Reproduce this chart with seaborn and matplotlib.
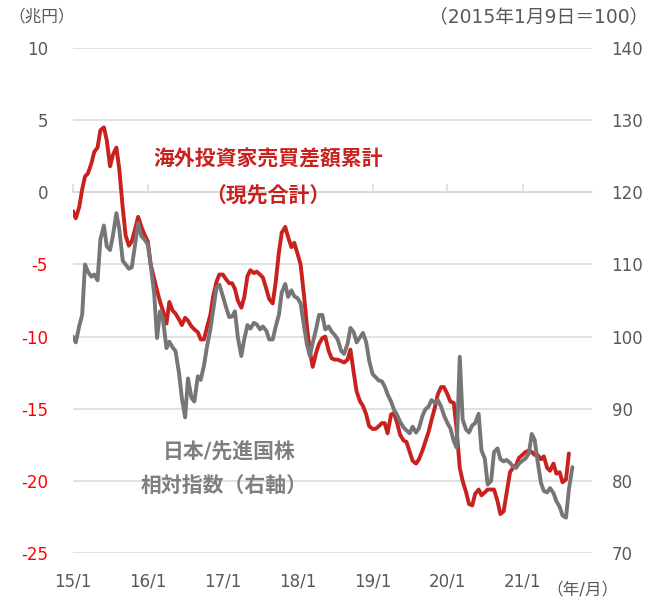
import pandas as pd
import matplotlib.pyplot as plt
import matplotlib.dates as mdates
import seaborn as sns

# semi-monthly observation dates, Jan 2015 - Sep 2021
dates = pd.date_range('2015-01-01', periods=161, freq='SMS')

# foreign investors cumulative net buying (trillion yen, left axis)
flow = [-1.3, -1.8, -1.0, 0.2, 1.1, 1.3, 2.0, 2.8, 3.1, 4.3,
        4.5, 3.6, 1.8, 2.6, 3.1, 1.6, -1.1, -3.0, -3.7, -3.4,
        -2.5, -1.7, -2.4, -2.9, -3.4, -5.0, -6.0, -6.8, -7.6, -8.2,
        -9.1, -7.6, -8.2, -8.4, -8.8, -9.2, -8.7, -8.9, -9.3, -9.5,
        -9.7, -10.2, -10.2, -9.4, -8.5, -7.2, -6.2, -5.7, -5.7, -6.0,
        -6.3, -6.3, -6.7, -7.5, -8.0, -7.3, -5.8, -5.4, -5.6, -5.5,
        -5.7, -5.9, -6.7, -7.4, -7.7, -6.3, -4.2, -2.8, -2.4, -3.1,
        -3.8, -3.5, -4.3, -5.0, -7.2, -9.3, -11.0, -12.1, -11.1, -10.5,
        -10.1, -10.0, -11.0, -11.5, -11.6, -11.6, -11.7, -11.8, -11.6, -10.9,
        -12.5, -13.8, -14.5, -14.8, -15.4, -16.2, -16.4, -16.4, -16.2, -16.0,
        -16.0, -16.7, -15.4, -15.3, -16.0, -16.8, -17.2, -17.3, -18.0, -18.6,
        -18.8, -18.5, -17.9, -17.3, -16.6, -15.8, -14.9, -14.0, -13.5, -13.5,
        -14.0, -14.5, -14.6, -16.5, -19.1, -20.0, -20.8, -21.6, -21.7, -20.9,
        -20.6, -21.0, -20.8, -20.6, -20.6, -20.6, -21.4, -22.3, -22.1, -20.9,
        -19.4, -19.1, -18.9, -18.4, -18.2, -18.0, -17.9, -18.0, -18.2, -18.2,
        -18.5, -18.3, -19.1, -19.3, -18.8, -19.5, -19.4, -20.1, -19.9, -18.1]

# Japan / developed markets relative index (2015-01-09 = 100, right axis)
rel_index = [100.0, 99.2, 101.5, 103.0, 110.0, 109.0, 108.3, 108.6, 107.8, 113.5,
             115.4, 112.5, 112.0, 114.0, 117.1, 114.9, 110.5, 110.0, 109.4, 109.6,
             113.0, 115.7, 113.9, 113.5, 112.8, 110.0, 106.0, 99.8, 103.5, 102.4,
             98.4, 99.3, 98.5, 98.0, 95.0, 91.5, 88.8, 94.2, 91.5, 91.0,
             94.5, 94.0, 96.0, 98.5, 101.0, 103.7, 106.8, 107.2, 105.6, 104.2,
             102.7, 102.8, 103.5, 99.9, 97.3, 99.6, 101.6, 101.1, 101.9, 101.7,
             101.0, 101.4, 100.8, 99.6, 99.6, 101.3, 103.0, 106.1, 107.3, 105.5,
             106.4, 105.6, 105.3, 104.6, 101.4, 98.9, 97.3, 99.1, 101.1, 103.0,
             103.0, 101.0, 101.4, 100.7, 100.2, 99.6, 98.0, 97.6, 99.0, 101.2,
             100.6, 99.2, 99.9, 100.5, 99.2, 96.7, 94.8, 94.4, 93.9, 93.8,
             93.1, 92.0, 91.0, 89.9, 89.1, 88.2, 87.4, 87.0, 86.6, 87.5,
             86.7, 87.3, 89.0, 89.9, 90.3, 91.2, 90.8, 91.2, 90.3, 89.1,
             88.0, 87.3, 85.5, 84.6, 97.2, 88.5, 87.1, 86.7, 87.7, 88.0,
             89.3, 84.2, 83.1, 79.5, 80.0, 84.0, 84.5, 83.0, 82.7, 82.9,
             82.5, 82.0, 81.8, 82.4, 82.8, 83.1, 83.8, 86.5, 85.7, 82.8,
             79.7, 78.6, 78.4, 79.0, 78.3, 77.2, 76.4, 75.2, 74.9, 78.8,
             81.9]

left_ticks = [10, 5, 0, -5, -10, -15, -20, -25]
right_ticks = [140, 130, 120, 110, 100, 90, 80, 70]
year_ticks = pd.date_range('2015-01-01', '2021-01-01', freq='YS')
year_labels = ['15/1', '16/1', '17/1', '18/1', '19/1', '20/1', '21/1']

red = '#c9211e'
gray = '#767676'
label_gray = '#595959'
grid_gray = '#d9d9d9'

sns.set_theme(style='white')
plt.rcParams['font.family'] = ['DejaVu Sans', 'Noto Sans CJK JP']

fig = plt.figure(figsize=(6.63, 6.0), dpi=100)
ax = fig.add_axes([0.110, 0.0783, 0.783, 0.8417])
ax2 = ax.twinx()

sns.lineplot(x=dates[:len(flow)], y=flow, ax=ax, color=red, lw=2.8)
sns.lineplot(x=dates, y=rel_index, ax=ax2, color=gray, lw=2.8)

ax.set_xlim(pd.Timestamp('2015-01-01'), pd.Timestamp('2021-12-06'))
ax.set_ylim(-25, 10)
ax2.set_ylim(70, 140)

ax.set_yticks(left_ticks)
ax.set_yticklabels([str(v) for v in left_ticks])
ax2.set_yticks(right_ticks)
ax2.set_yticklabels([str(v) for v in right_ticks])
ax.set_xticks(year_ticks)
ax.set_xticklabels(year_labels)

ax.tick_params(axis='y', length=0, pad=18, labelsize=12, labelcolor=label_gray)
ax2.tick_params(axis='y', length=0, pad=14, labelsize=12, labelcolor=label_gray)
ax.tick_params(axis='x', length=0, pad=14, labelsize=12, labelcolor=label_gray)
for lbl, v in zip(ax.get_yticklabels(), left_ticks):
    if v < 0:
        lbl.set_color('#ff0000')

ax.yaxis.grid(True, color=grid_gray, lw=1.1)
ax.xaxis.grid(False)
ax.set_axisbelow(True)
for a in (ax, ax2):
    for s in a.spines.values():
        s.set_visible(False)
    a.set_xlabel('')
    a.set_ylabel('')

# category axis drawn on the zero line, with tick marks pointing up
zero_pos = (0 - (-25)) / 35
sec = ax.secondary_xaxis(zero_pos)
sec.set_xticks(mdates.date2num(year_ticks))
sec.xaxis.set_ticks_position('top')
sec.tick_params(axis='x', which='major', direction='out', length=6, width=1.1,
                color=grid_gray, top=True, bottom=False,
                labeltop=False, labelbottom=False)
sec.spines['top'].set_visible(True)
sec.spines['top'].set_color(grid_gray)
sec.spines['top'].set_linewidth(1.1)
sec.spines['bottom'].set_visible(False)

fig.text(0.012, 0.972, '（兆円）', fontsize=12, color=label_gray, va='center')
fig.text(0.978, 0.972, '（2015年1月9日＝100）', fontsize=13.5, color=label_gray,
         va='center', ha='right')
fig.text(0.878, 0.017, '（年/月）', fontsize=12, color=label_gray, va='center', ha='center')

ax.text(0.376, 0.780, '海外投資家売買差額累計', transform=ax.transAxes,
        fontsize=15, fontweight='bold', color=red, ha='center', va='center')
ax.text(0.376, 0.706, '（現先合計）', transform=ax.transAxes,
        fontsize=15, fontweight='bold', color=red, ha='center', va='center')
ax.text(0.302, 0.200, '日本/先進国株', transform=ax.transAxes,
        fontsize=15, fontweight='bold', color='#7f7f7f', ha='center', va='center')
ax.text(0.291, 0.131, '相対指数（右軸）', transform=ax.transAxes,
        fontsize=15, fontweight='bold', color='#7f7f7f', ha='center', va='center')

fig.savefig('out.png', dpi=100)
